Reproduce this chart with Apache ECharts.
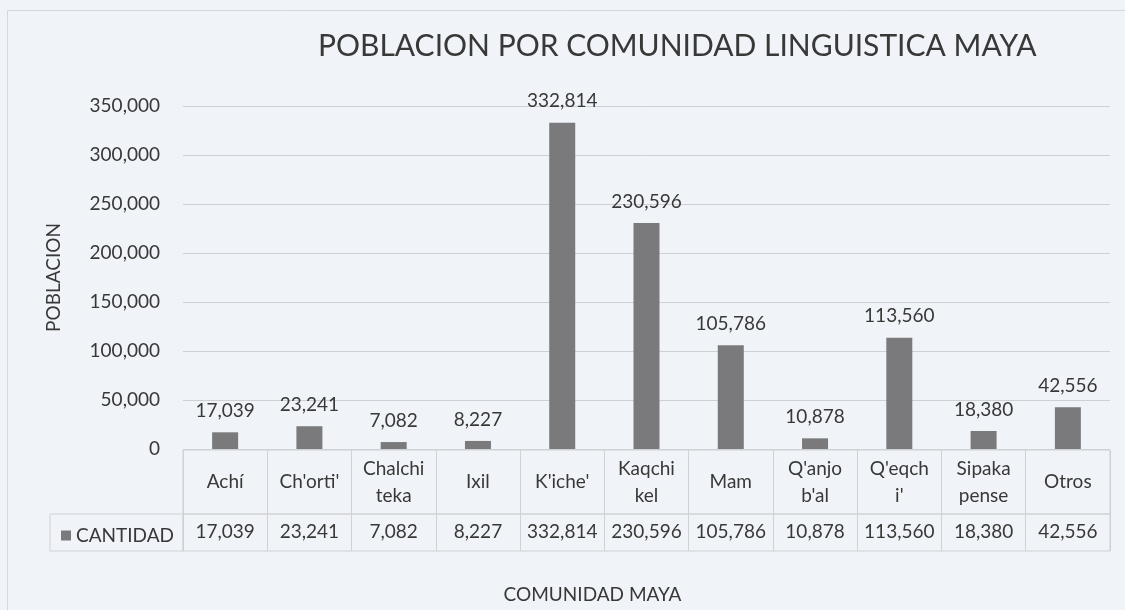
<!DOCTYPE html>
<html>
<head>
<meta charset="utf-8">
<script src="https://cdn.jsdelivr.net/npm/echarts@6/dist/echarts.min.js"></script>
<style>
    html, body { margin: 0; padding: 0; background: #f0f3f7; }
    #chart { width: 1125px; height: 610px; }
</style>
</head>
<body>
<div id="chart"></div>
<script>
// data
const categories = ['Achí', "Ch'orti'", 'Chalchi\nteka', 'Ixil', "K'iche'", 'Kaqchi\nkel', 'Mam', "Q'anjo\nb'al", "Q'eqch\ni'", 'Sipaka\npense', 'Otros'];
const cantidad = [17039, 23241, 7082, 8227, 332814, 230596, 105786, 10878, 113560, 18380, 42556];
const seriesName = 'CANTIDAD';
const yTicks = { min: 0, max: 350000, interval: 50000 };

const FONT = 'Lato';
const TEXT = '#383838';
const LINE = '#cfd1d4';
const fmt = v => Number(v).toLocaleString('en-US');

const chart = echarts.init(document.getElementById('chart'));

// table row: just the cell borders, split at category boundaries
const tableAxis = (gridIndex) => ({
    type: 'category',
    gridIndex: gridIndex,
    data: categories,
    boundaryGap: true,
    axisLine: { show: false },
    axisTick: { show: false },
    axisLabel: { show: false },
    splitLine: { show: true, lineStyle: { color: LINE, width: 1 } }
});

chart.setOption({
    backgroundColor: '#f0f3f7',
    textStyle: { fontFamily: FONT, color: TEXT },
    title: {
        text: 'POBLACION POR COMUNIDAD LINGUISTICA MAYA',
        left: 313,
        top: 26,
        textStyle: { fontFamily: FONT, fontSize: 30, fontWeight: 'normal', color: TEXT }
    },
    legend: {
        data: [seriesName],
        left: 56,
        top: 521,
        icon: 'rect',
        itemWidth: 10,
        itemHeight: 10,
        itemGap: 6,
        textStyle: { fontFamily: FONT, fontSize: 19, color: TEXT }
    },
    graphic: [{
        type: 'rect',
        silent: true,
        shape: { x: 7.5, y: 10.5, width: 1130, height: 620 },
        style: { fill: 'none', stroke: '#d5d7da', lineWidth: 1 }
    }],
    grid: [
        { left: 183, right: 15, top: 106, bottom: 161 },
        { left: 183, right: 15, top: 450, height: 64, show: true, borderColor: LINE, borderWidth: 1 },
        { left: 183, right: 15, top: 514, height: 37, show: true, borderColor: LINE, borderWidth: 1 },
        { left: 50, width: 133, top: 514, height: 37, show: true, borderColor: LINE, borderWidth: 1 }
    ],
    xAxis: [
        {
            type: 'category',
            gridIndex: 0,
            data: categories,
            axisLine: { show: false },
            axisTick: { show: false },
            axisLabel: {
                interval: 0,
                margin: 33,
                verticalAlign: 'middle',
                lineHeight: 27,
                fontFamily: FONT,
                fontSize: 19,
                color: TEXT
            },
            name: 'COMUNIDAD MAYA',
            nameLocation: 'middle',
            nameGap: 136,
            nameTextStyle: { fontFamily: FONT, fontSize: 19, color: TEXT, padding: [0, 108, 0, 0] }
        },
        tableAxis(1),
        Object.assign(tableAxis(2), {
            position: 'top',
            axisLabel: {
                show: true,
                inside: true,
                interval: 0,
                margin: 18,
                verticalAlign: 'middle',
                fontFamily: FONT,
                fontSize: 19,
                color: TEXT,
                formatter: (v, i) => fmt(cantidad[i])
            }
        }),
        { type: 'category', gridIndex: 3, show: false, data: [''] }
    ],
    yAxis: [
        {
            type: 'value',
            gridIndex: 0,
            min: yTicks.min,
            max: yTicks.max,
            interval: yTicks.interval,
            axisLine: { show: false },
            axisTick: { show: false },
            axisLabel: { margin: 23, fontFamily: FONT, fontSize: 19, color: TEXT, formatter: fmt },
            splitLine: { lineStyle: { color: '#cdd0d4', width: 1 } },
            name: 'POBLACION',
            nameLocation: 'middle',
            nameRotate: 90,
            nameGap: 120,
            nameTextStyle: { fontFamily: FONT, fontSize: 19, color: TEXT }
        },
        { type: 'value', gridIndex: 1, show: false },
        { type: 'value', gridIndex: 2, show: false },
        { type: 'value', gridIndex: 3, show: false }
    ],
    series: [{
        name: seriesName,
        type: 'bar',
        xAxisIndex: 0,
        yAxisIndex: 0,
        data: cantidad,
        barWidth: 26,
        itemStyle: { color: '#7a7a7c' },
        label: {
            show: true,
            position: 'top',
            distance: 12,
            fontFamily: FONT,
            fontSize: 19,
            color: TEXT,
            formatter: p => fmt(p.value)
        }
    }]
});
</script>
</body>
</html>
